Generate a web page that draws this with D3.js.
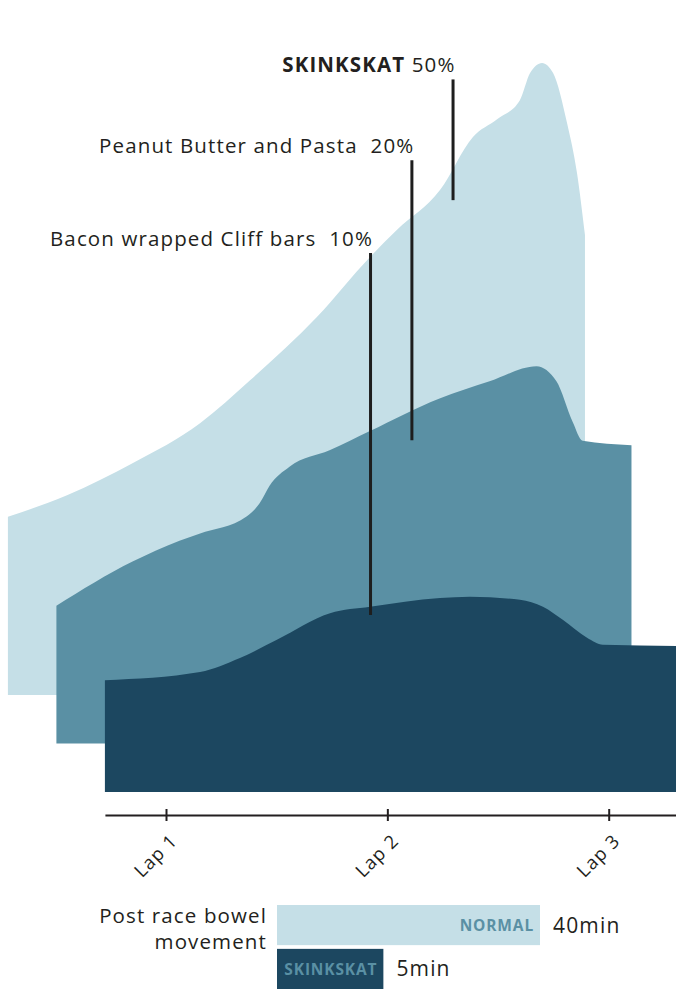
<!DOCTYPE html>
<html>
<head>
<meta charset="utf-8">
<script src="https://cdn.jsdelivr.net/npm/d3@7"></script>
<style>
  body { margin: 0; background: #fff; }
  svg { display: block; }
  text { font-family: "Open Sans", sans-serif; fill: #231f20; letter-spacing: 0.055em; }
</style>
</head>
<body>
<svg id="chart"></svg>
<script>
const W = 676, H = 989;

// x positions are in laps, values are relative effect (peak = 100)
const lapTicks = [1, 2, 3];
const lapLabels = ["Lap 1", "Lap 2", "Lap 3"];

const darkLaps   = [0.724, 1.154, 1.334, 1.501, 1.741, 1.922, 2.238, 2.373, 2.599, 2.703, 2.794, 2.902, 2.974, 3.33];
const darkValues = [17.7, 19.0, 21.2, 24.1, 28.3, 29.3, 30.7, 30.9, 30.4, 29.3, 27.2, 24.4, 23.3, 23.1];

const midLaps   = [0.724, 1.068, 1.280, 1.370, 1.583, 1.642, 1.687, 1.777, 1.958, 2.138, 2.455, 2.681, 2.893, 2.983, 3.056, 3.101, 3.322];
const midValues = [21.8, 28.8, 32.1, 33.2, 35.9, 38.0, 40.8, 43.8, 46.4, 49.4, 54.6, 57.3, 59.7, 57.3, 50.9, 47.9, 47.2];

const lightLaps   = [0.724, 0.991, 1.289, 1.592, 1.818, 2.120, 2.360, 2.482, 2.676, 2.825, 2.934, 3.037, 3.083, 3.137, 3.187, 3.250, 3.295, 3.331];
const lightValues = [28.2, 31.6, 36.7, 43.0, 49.8, 59.8, 69.3, 73.6, 79.9, 88.3, 91.1, 94.1, 98.4, 100, 98.4, 90.5, 82.6, 72.8];

const layers = [
  { depth: 2, laps: lightLaps, values: lightValues, color: "#c5dfe7" },
  { depth: 1, laps: midLaps,   values: midValues,   color: "#5a90a4" },
  { depth: 0, laps: darkLaps,  values: darkValues,  color: "#1c4760" }
];

// annotations: lap + value range within the layer they point to
const notes = [
  { name: "Bacon wrapped Cliff bars", pct: "10%", depth: 0, lap: 1.924, from: 28.0, to: 85.3, bold: false, gap: "  " },
  { name: "Peanut Butter and Pasta",  pct: "20%", depth: 1, lap: 2.330, from: 48.0, to: 92.3, bold: false, gap: "  " },
  { name: "SKINKSKAT",                pct: "50%", depth: 2, lap: 2.735, from: 78.3, to: 97.4, bold: true,  gap: " " }
];

const bowelTitle = ["Post race bowel", "movement"];
const bowelNames = ["NORMAL", "SKINKSKAT"];
const bowelMinutes = [40, 5];
const bowelColors = ["#c5dfe7", "#1c4760"];

const baseline = 792;
const step = 48.5;

const svg = d3.select("#chart")
  .attr("width", W)
  .attr("height", H)
  .attr("viewBox", `0 0 ${W} ${H}`);

const x = d3.scaleLinear().domain([1, 3]).range([166, 608.7]);
const y = d3.scaleLinear().domain([0, 100]).range([0, -632]);

const area = d3.area()
  .x(d => x(d.lap))
  .y0(y(0))
  .y1(d => y(d.v))
  .curve(d3.curveMonotoneX);

const layerG = svg.selectAll("g.layer")
  .data(layers)
  .enter()
  .append("g")
  .attr("class", "layer")
  .attr("transform", d => `translate(${-d.depth * step},${baseline - d.depth * step})`);

layerG.append("path")
  .attr("fill", d => d.color)
  .attr("d", d => area(d.laps.map((l, i) => ({ lap: l, v: d.values[i] }))));

// annotation lines and labels
const noteG = svg.selectAll("g.note")
  .data(notes)
  .enter()
  .append("g")
  .attr("class", "note")
  .attr("transform", d => `translate(${-d.depth * step},${baseline - d.depth * step})`);

noteG.append("line")
  .attr("x1", d => x(d.lap))
  .attr("x2", d => x(d.lap))
  .attr("y1", d => y(d.from))
  .attr("y2", d => y(d.to))
  .attr("stroke", "#1e1e1e")
  .attr("stroke-width", 3);

const noteText = noteG.append("text")
  .attr("x", d => x(d.lap) + 2.5)
  .attr("y", d => y(d.to) - 7)
  .attr("text-anchor", "end")
  .style("white-space", "pre")
  .attr("font-size", "20.5px");

noteText.append("tspan")
  .attr("font-weight", d => d.bold ? 700 : 400)
  .text(d => d.name);

noteText.append("tspan")
  .text(d => d.gap + d.pct);

// axis
const axisScale = x.copy()
  .domain([darkLaps[0], 3.33])
  .range([x(darkLaps[0]), x(3.33)]);

const axisG = svg.append("g")
  .attr("transform", "translate(0,815)")
  .call(d3.axisBottom(axisScale)
    .tickValues(lapTicks)
    .tickFormat((d, i) => lapLabels[i])
    .tickSizeOuter(0));

axisG.select(".domain").attr("stroke", "#231f20").attr("stroke-width", 2);
axisG.selectAll(".tick line")
  .attr("y1", -6)
  .attr("y2", 6)
  .attr("stroke", "#231f20")
  .attr("stroke-width", 2);
axisG.selectAll(".tick text")
  .attr("y", null)
  .attr("dy", null)
  .attr("transform", "translate(12,27) rotate(-45)")
  .attr("text-anchor", "end")
  .style("font-family", "'Open Sans', sans-serif")
  .style("font-size", "18.5px")
  .attr("fill", "#231f20");

// bowel movement bars
const barW = d3.scaleLinear().domain([0, 40]).range([84, 263]);
const barY = d3.scaleBand().domain(bowelNames).range([905, 989]).paddingInner(0.085);
const barX0 = 277;

svg.append("text")
  .attr("text-anchor", "end")
  .attr("font-size", "20.5px")
  .selectAll("tspan")
  .data(bowelTitle)
  .enter()
  .append("tspan")
  .attr("x", 267)
  .attr("y", (d, i) => 923 + i * 26)
  .text(d => d);

const bars = svg.selectAll("g.bar")
  .data(bowelNames)
  .enter()
  .append("g")
  .attr("class", "bar");

bars.append("rect")
  .attr("x", barX0)
  .attr("y", d => barY(d))
  .attr("width", (d, i) => barW(bowelMinutes[i]))
  .attr("height", barY.bandwidth())
  .attr("fill", (d, i) => bowelColors[i]);

bars.append("text")
  .attr("x", (d, i) => barX0 + barW(bowelMinutes[i]) - 6)
  .attr("y", d => barY(d) + barY.bandwidth() / 2)
  .attr("dy", "0.36em")
  .attr("text-anchor", "end")
  .attr("font-size", "15.5px")
  .attr("font-weight", 700)
  .style("fill", "#5a90a4")
  .text(d => d);

bars.append("text")
  .attr("x", (d, i) => barX0 + barW(bowelMinutes[i]) + 13)
  .attr("y", d => barY(d) + barY.bandwidth() / 2)
  .attr("dy", "0.36em")
  .attr("font-size", "21px")
  .text((d, i) => bowelMinutes[i] + "min");
</script>
</body>
</html>
